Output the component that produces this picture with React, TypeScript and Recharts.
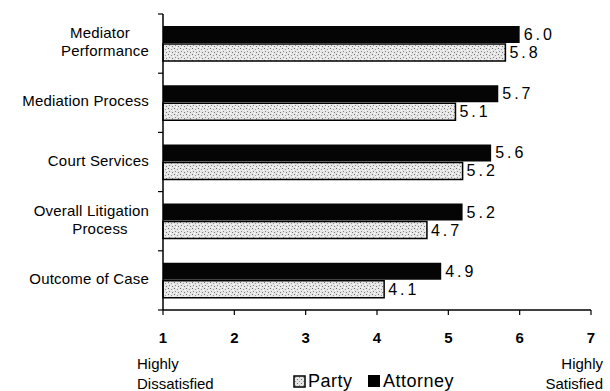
import { BarChart, Bar, XAxis, YAxis, LabelList } from "recharts"

const categories = [
  "Mediator Performance",
  "Mediation Process",
  "Court Services",
  "Overall Litigation Process",
  "Outcome of Case",
]
const attorney = [6.0, 5.7, 5.6, 5.2, 4.9]
const party = [5.8, 5.1, 5.2, 4.7, 4.1]
const xTicks = [1, 2, 3, 4, 5, 6, 7]

// labels that wrap onto two lines in the original
const wrapped: Record<string, string[]> = {
  "Mediator Performance": ["Mediator", "Performance"],
  "Overall Litigation Process": ["Overall Litigation", "Process"],
}

const W = 610
const H = 391
const M = { top: 14, right: 19, left: 0, bottom: 51 }
const X_AXIS_H = 30
const Y_AXIS_W = 163
const PLOT_H = H - M.top - M.bottom - X_AXIS_H
const FONT = "Arial, 'Liberation Sans', Helvetica, sans-serif"

const data = categories.map((name, i) => ({
  name,
  attorney: attorney[i],
  party: party[i],
}))

function CategoryTick(props: any) {
  const { x, y, payload, index } = props
  const band = PLOT_H / categories.length
  const axisX = x + 14
  const lines = wrapped[payload.value] ?? [payload.value]
  const longest = lines.reduce((a, b) => (b.length > a.length ? b : a), "")
  return (
    <g>
      <line x1={axisX - 5} x2={axisX} y1={y - band / 2} y2={y - band / 2} stroke="#000" strokeWidth={1.2} />
      {index === categories.length - 1 && (
        <line x1={axisX - 5} x2={axisX} y1={y + band / 2} y2={y + band / 2} stroke="#000" strokeWidth={1.2} />
      )}
      {lines.map((line: string, i: number) => (
        <text
          key={line}
          x={line === longest ? x : x - 49}
          y={y - 2 + (i - (lines.length - 1) / 2) * 18}
          textAnchor={line === longest ? "end" : "middle"}
          dominantBaseline="central"
          fontSize={15}
          letterSpacing={0.2}
          fontFamily={FONT}
          fill="#000"
        >
          {line}
        </text>
      ))}
    </g>
  )
}

function ValueLabel(props: any) {
  const { x, y, width, height, value } = props
  return (
    <text
      x={x + width + 4}
      y={y + height / 2}
      dominantBaseline="central"
      fontSize={16}
      fontFamily={FONT}
      letterSpacing={3}
      fill="#000"
    >
      {Number(value).toFixed(1)}
    </text>
  )
}

function PartySwatch() {
  return (
    <svg width={13} height={13} style={{ position: "absolute", left: 293, top: 375 }}>
      <defs>
        <pattern id="partyFillLegend" width={4} height={4} patternUnits="userSpaceOnUse">
          <rect width={4} height={4} fill="#e4e4e4" />
          <rect x={0} y={0} width={1} height={1} fill="#777" />
          <rect x={2} y={2} width={1} height={1} fill="#999" />
        </pattern>
      </defs>
      <rect x={1} y={1} width={11} height={11} fill="url(#partyFillLegend)" stroke="#000" strokeWidth={1.5} />
    </svg>
  )
}

export default function App() {
  const legendText = { position: "absolute" as const, top: 371, fontSize: 18, lineHeight: "20px", letterSpacing: 0.5, color: "#000" }
  return (
    <div style={{ position: "absolute", left: 0, top: 0, width: W, height: H, background: "#fff", fontFamily: FONT }}>
      <BarChart width={W} height={H} data={data} layout="vertical" margin={M} barSize={17} barGap={1}>
        <defs>
          <pattern id="partyFill" width={6} height={6} patternUnits="userSpaceOnUse">
            <rect width={6} height={6} fill="#e6e6e6" />
            <rect x={0} y={0} width={1} height={1} fill="#6e6e6e" />
            <rect x={3} y={1} width={1} height={1} fill="#9a9a9a" />
            <rect x={1} y={3} width={1} height={1} fill="#8a8a8a" />
            <rect x={4} y={4} width={1} height={1} fill="#777" />
            <rect x={5} y={2} width={1} height={1} fill="#fff" />
            <rect x={2} y={5} width={1} height={1} fill="#fff" />
          </pattern>
        </defs>
        <XAxis
          type="number"
          domain={[1, 7]}
          ticks={xTicks}
          height={X_AXIS_H}
          axisLine={{ stroke: "#000", strokeWidth: 1.5 }}
          tickLine={{ stroke: "#000", strokeWidth: 1.2 }}
          tickSize={5}
          tickMargin={17}
          tick={{ fill: "#000", fontSize: 15, fontWeight: 700, fontFamily: FONT }}
        />
        <YAxis
          type="category"
          dataKey="name"
          width={Y_AXIS_W}
          axisLine={{ stroke: "#000", strokeWidth: 1.5 }}
          tickLine={false}
          tickSize={0}
          tickMargin={14}
          interval={0}
          tick={<CategoryTick />}
        />
        <Bar dataKey="attorney" name="Attorney" fill="#050505" isAnimationActive={false}>
          <LabelList dataKey="attorney" content={<ValueLabel />} />
        </Bar>
        <Bar dataKey="party" name="Party" fill="url(#partyFill)" stroke="#000" strokeWidth={1.5} isAnimationActive={false}>
          <LabelList dataKey="party" content={<ValueLabel />} />
        </Bar>
      </BarChart>

      <div style={{ position: "absolute", left: 137, top: 354, fontSize: 15, lineHeight: "20px", color: "#000" }}>
        Highly
        <br />
        Dissatisfied
      </div>
      <div style={{ position: "absolute", right: 7, top: 354, fontSize: 15, lineHeight: "20px", color: "#000", textAlign: "right" }}>
        Highly
        <br />
        Satisfied
      </div>
      <PartySwatch />
      <span style={{ ...legendText, left: 308 }}>Party</span>
      <span style={{ position: "absolute", left: 368, top: 375, width: 12, height: 12, background: "#000" }} />
      <span style={{ ...legendText, left: 383 }}>Attorney</span>
    </div>
  )
}
